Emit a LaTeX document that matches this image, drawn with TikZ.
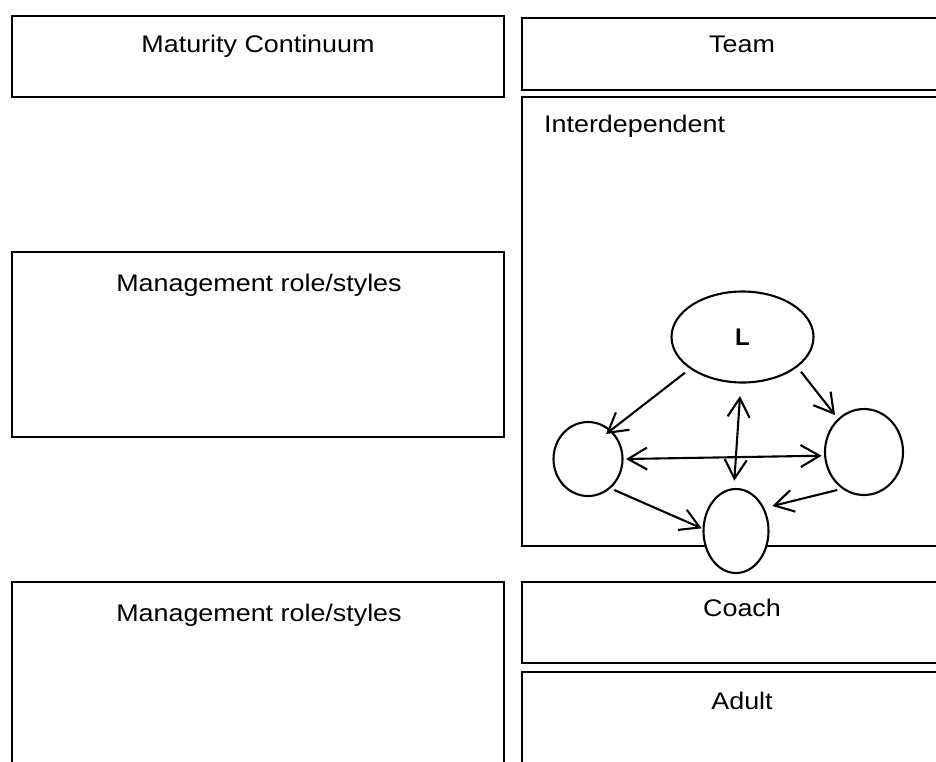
\documentclass[tikz,border=0pt]{standalone}
\usepackage{fontspec}
\setmainfont{Liberation Sans}
\usetikzlibrary{arrows.meta,shapes.geometric}
\newcommand{\wtxt}[1]{\scalebox{1.12}[1]{#1}}
\begin{document}
\begin{tikzpicture}[x=1pt,y=-1pt,
  box/.style={draw=black,line width=2.8pt},
  lbl/.style={font=\fontsize{24}{29}\selectfont,inner sep=0pt,anchor=base},
  person/.style={draw=black,line width=2.1pt,ellipse,inner sep=0pt},
  tip/.tip={Straight Barb[length=19pt,width=22pt,line width=2.1pt]},
  link/.style={line width=2.1pt,-tip},
  dlink/.style={line width=2.1pt,tip-tip}]
\useasboundingbox (0,0) rectangle (936,761);
\clip (0,0) rectangle (936,761);
% boxes
\draw[box] (12,16) rectangle (504,97);
\node[lbl] (tmat) at (258,52.5) {\wtxt{Maturity Continuum}};
\draw[box] (522,18) rectangle (960,90);
\node[lbl] (tteam) at (742,52.5) {\wtxt{Team}};
\draw[box] (522,97) rectangle (960,546);
\node[lbl,anchor=base west] (tinter) at (544,132) {\wtxt{Interdependent}};
\draw[box] (12,252) rectangle (504,437);
\node[lbl] (tmg1) at (259,291.5) {\wtxt{Management role/styles}};
\draw[box] (12,582) rectangle (504,800);
\node[lbl] (tmg2) at (259,621.5) {\wtxt{Management role/styles}};
\draw[box] (522,582) rectangle (960,663);
\node[lbl] (tcoach) at (742,616) {\wtxt{Coach}};
\draw[box] (522,672) rectangle (960,800);
\node[lbl] (tadult) at (742,709) {\wtxt{Adult}};
% people
\node[person,fill=white,minimum width=142pt,minimum height=91pt] (L) at (742.5,337) {\fontsize{24}{28}\selectfont\bfseries L};
\node[person,minimum width=69pt,minimum height=74pt] (A) at (588,459) {};
\node[person,minimum width=78pt,minimum height=86pt] (R) at (864,452) {};
\node[person,fill=white,minimum width=65pt,minimum height=84pt] (B) at (736,531) {};
% connectors
\draw[link] ([shift={(-57.5,35.7)}]L.center) -- ([shift={(18,-25)}]A.center);
\draw[link] ([shift={(58.5,34.7)}]L.center) -- ([shift={(-29,-37)}]R.center);
\draw[dlink] ([shift={(-2.5,59)}]L.center) -- ([shift={(-1.7,-50.3)}]B.center);
\draw[dlink] ([shift={(38,0)}]A.center) -- ([shift={(-42.3,3.7)}]R.center);
\draw[link] ([shift={(26.3,31)}]A.center) -- ([shift={(-34.3,-2.7)}]B.center);
\draw[link] ([shift={(-26.7,38)}]R.center) -- ([shift={(36.3,-25)}]B.center);
\end{tikzpicture}
\end{document}
